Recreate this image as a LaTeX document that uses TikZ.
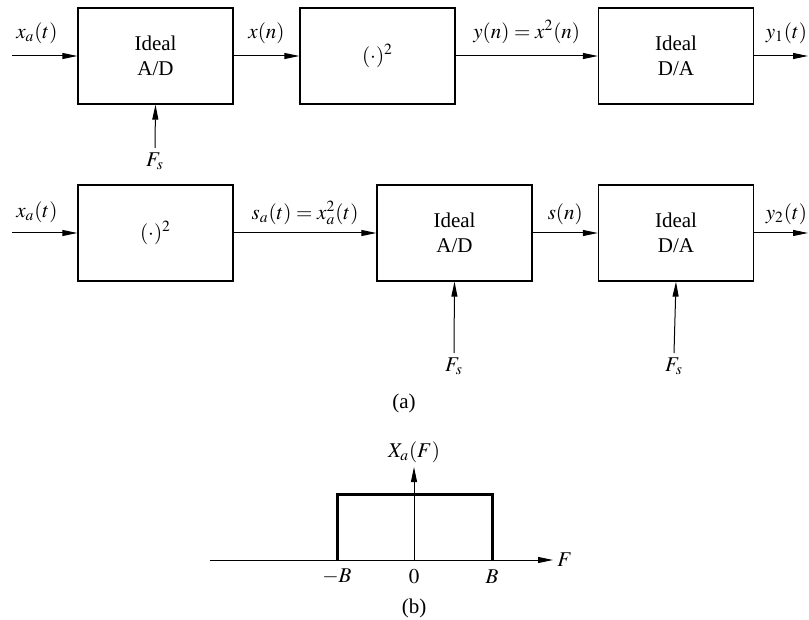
\documentclass[tikz,border=0pt]{standalone}
\usepackage{mathptmx}
\usepackage{fontspec}
\setmainfont{Liberation Serif}
\usetikzlibrary{arrows.meta,positioning}

\begin{document}
\begin{tikzpicture}[x=0.5pt,y=-0.5pt,font=\fontsize{10.5}{12.5}\selectfont,
  blk/.style={draw, line width=0.65pt, minimum width=77.5pt, minimum height=48pt, align=center, inner sep=0pt},
  sig/.style={line width=0.5pt, -{Triangle[length=7.5pt,width=3pt]}},
  lbl/.style={inner sep=2pt}]
\useasboundingbox (0,0) rectangle (809,620);
% top row: A/D, squarer, D/A
\node[blk] (adc1) at (155.5,56) {Ideal\\A/D};
\node[blk] (sqr1) at (377.5,56) {$(\cdot)^2$};
\node[blk] (dac1) at (676,56) {Ideal\\D/A};
\coordinate (in1) at (12,56);
\coordinate (out1) at (808,56);
\draw[sig] (in1) -- node[lbl,above=4pt,pos=0.38] {$x_a(t)$} (adc1);
\draw[sig] (adc1) -- node[lbl,above=4pt] {$x(n)$} (sqr1);
\draw[sig] (sqr1) -- node[lbl,above=4pt] {$y(n) = x^2(n)$} (dac1);
\draw[sig] (dac1) -- node[lbl,above=4pt,pos=0.6] {$y_1(t)$} (out1);
\node[lbl,anchor=north] (fs1) at (155,148) {$F_s$};
\draw[sig] (fs1.north) -- (adc1.south);
% bottom row: squarer, A/D, D/A
\node[blk] (sqr2) at (155.5,233) {$(\cdot)^2$};
\node[blk] (adc2) at (454.5,233) {Ideal\\A/D};
\node[blk] (dac2) at (676,233) {Ideal\\D/A};
\coordinate (in2) at (12,233);
\coordinate (out2) at (808,233);
\draw[sig] (in2) -- node[lbl,above=3pt,pos=0.38] {$x_a(t)$} (sqr2);
\draw[sig] (sqr2) -- node[lbl,above=2pt] {$s_a(t) = x_a^2(t)$} (adc2);
\draw[sig] (adc2) -- node[lbl,above=2pt] {$s(n)$} (dac2);
\draw[sig] (dac2) -- node[lbl,above=2pt,pos=0.6] {$y_2(t)$} (out2);
\node[lbl,anchor=north] (fs2) at (454,353) {$F_s$};
\node[lbl,anchor=north] (fs3) at (674,353) {$F_s$};
\draw[sig] (fs2.north) -- (adc2.south);
\draw[sig] (fs3.north) -- (dac2.south);
\node (capa) at (404,403) {(a)};
% (b): spectrum of x_a(t)
\coordinate (fl) at (210,560);
\coordinate (fr) at (553,560);
\coordinate (org) at (414,560);
\coordinate (top) at (414,467);
\draw[sig] (fl) -- (fr);
\draw[sig] (org) -- (top);
\draw[line width=1.5pt] (337,560) -- (337,494) -- (492,494) -- (492,560);
\node[lbl,right] (flbl) at (fr) {$F$};
\node[lbl,above] (xlbl) at (top) {$X_a(F)$};
\node (mb) at (337,577) {$-B$};
\node (zr) at (414,577) {$0$};
\node (pb) at (492,577) {$B$};
\node (capb) at (414,608) {(b)};
\end{tikzpicture}
\end{document}
